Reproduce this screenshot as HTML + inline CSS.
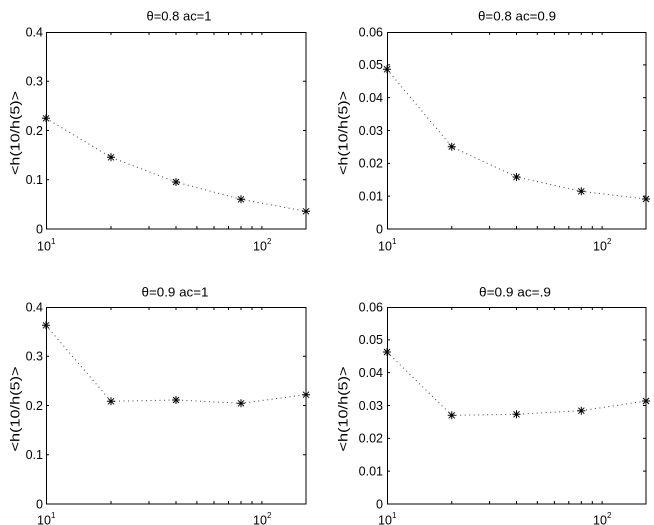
<!DOCTYPE html>
<html><head><meta charset="utf-8"><style>
html,body{margin:0;padding:0;background:#fff;}
svg{display:block;}
text{font-family:"Liberation Sans",Arial,sans-serif;fill:#000;}
</style></head><body>
<svg width="654" height="525" viewBox="0 0 654 525" xmlns="http://www.w3.org/2000/svg">
<defs>
<path id="m" d="M-4,0H4M0,-4V4M-3,-3L3,3M-3,3L3,-3" stroke="#000" stroke-width="1" fill="none"/>
</defs>

<!-- ===== Plot 1 ===== -->
<g>
<rect x="46.5" y="32.5" width="259.5" height="196.5" fill="none" stroke="#000" stroke-width="1"/>
<path stroke="#000" stroke-width="1" fill="none" d="
M111,229V226M149,229V226M176,229V226M196.9,229V226M214,229V226M228.5,229V226M241,229V226M252,229V226M261.9,229V226
M111,32V35M149,32V35M176,32V35M196.9,32V35M214,32V35M228.5,32V35M241,32V35M252,32V35M261.9,32V35
M46,179.75H49M46,130.5H49M46,81.25H49
M306,179.75H303M306,130.5H303M306,81.25H303"/>
<polyline points="46,118.3 111,157.3 176,182 241,199.3 306,211.3" fill="none" stroke="#000" stroke-width="1" stroke-dasharray="1 3.5" opacity="0.75"/>
<use href="#m" x="46" y="118.3"/><use href="#m" x="111" y="157.3"/><use href="#m" x="176" y="182"/><use href="#m" x="241" y="199.3"/><use href="#m" x="306" y="211.3"/>
<g font-size="12.5" text-anchor="end">
<text x="43" y="233.3">0</text>
<text x="43" y="184">0.1</text>
<text x="43" y="134.8">0.2</text>
<text x="43" y="85.5">0.3</text>
<text x="43" y="36.3">0.4</text>
</g>
<text x="37" y="250.5" font-size="12.5">10</text><text x="51" y="244" font-size="8">1</text>
<text x="253" y="250.5" font-size="12.5">10</text><text x="267" y="244" font-size="8">2</text>
<text x="179" y="20.7" font-size="13" text-anchor="middle" textLength="65" lengthAdjust="spacingAndGlyphs">θ=0.8 ac=1</text>
<text transform="translate(19.5,133) rotate(-90)" font-size="13" text-anchor="middle" textLength="84" lengthAdjust="spacingAndGlyphs">&lt;h(10/h(5)&gt;</text>
</g>

<!-- ===== Plot 2 ===== -->
<g>
<rect x="387.5" y="32.5" width="258.5" height="196.5" fill="none" stroke="#000" stroke-width="1"/>
<path stroke="#000" stroke-width="1" fill="none" d="
M451.75,229V226M489.6,229V226M516.5,229V226M537.3,229V226M554.4,229V226M568.8,229V226M581.3,229V226M592.3,229V226M602.1,229V226
M451.75,32V35M489.6,32V35M516.5,32V35M537.3,32V35M554.4,32V35M568.8,32V35M581.3,32V35M592.3,32V35M602.1,32V35
M387,196.17H390M387,163.33H390M387,130.5H390M387,97.67H390M387,64.83H390
M646,196.17H643M646,163.33H643M646,130.5H643M646,97.67H643M646,64.83H643"/>
<polyline points="387,69.3 451.75,146.7 516.5,177 581.3,191.3 646,199" fill="none" stroke="#000" stroke-width="1" stroke-dasharray="1 3.5" opacity="0.75"/>
<use href="#m" x="387" y="69.3"/><use href="#m" x="451.75" y="146.7"/><use href="#m" x="516.5" y="177"/><use href="#m" x="581.3" y="191.3"/><use href="#m" x="646" y="199"/>
<g font-size="12.5" text-anchor="end">
<text x="383" y="233.3">0</text>
<text x="383" y="200.5">0.01</text>
<text x="383" y="167.6">0.02</text>
<text x="383" y="134.8">0.03</text>
<text x="383" y="102">0.04</text>
<text x="383" y="69.1">0.05</text>
<text x="383" y="36.3">0.06</text>
</g>
<text x="378" y="250.5" font-size="12.5">10</text><text x="392" y="244" font-size="8">1</text>
<text x="593" y="250.5" font-size="12.5">10</text><text x="607" y="244" font-size="8">2</text>
<text x="517" y="20.7" font-size="13" text-anchor="middle" textLength="78" lengthAdjust="spacingAndGlyphs">θ=0.8 ac=0.9</text>
<text transform="translate(347.5,133) rotate(-90)" font-size="13" text-anchor="middle" textLength="84" lengthAdjust="spacingAndGlyphs">&lt;h(10/h(5)&gt;</text>
</g>

<!-- ===== Plot 3 ===== -->
<g>
<rect x="46.5" y="307.5" width="259.5" height="196.5" fill="none" stroke="#000" stroke-width="1"/>
<path stroke="#000" stroke-width="1" fill="none" d="
M111,504V501M149,504V501M176,504V501M196.9,504V501M214,504V501M228.5,504V501M241,504V501M252,504V501M261.9,504V501
M111,307V310M149,307V310M176,307V310M196.9,307V310M214,307V310M228.5,307V310M241,307V310M252,307V310M261.9,307V310
M46,454.75H49M46,405.5H49M46,356.25H49
M306,454.75H303M306,405.5H303M306,356.25H303"/>
<polyline points="46,325.3 111,401.3 176,400 241,403.3 306,394.7" fill="none" stroke="#000" stroke-width="1" stroke-dasharray="1 3.5" opacity="0.75"/>
<use href="#m" x="46" y="325.3"/><use href="#m" x="111" y="401.3"/><use href="#m" x="176" y="400"/><use href="#m" x="241" y="403.3"/><use href="#m" x="306" y="394.7"/>
<g font-size="12.5" text-anchor="end">
<text x="43" y="508.3">0</text>
<text x="43" y="459">0.1</text>
<text x="43" y="409.8">0.2</text>
<text x="43" y="360.5">0.3</text>
<text x="43" y="311.3">0.4</text>
</g>
<text x="37" y="524.5" font-size="12.5">10</text><text x="51" y="518" font-size="8">1</text>
<text x="253" y="524.5" font-size="12.5">10</text><text x="267" y="518" font-size="8">2</text>
<text x="175" y="296.5" font-size="13" text-anchor="middle" textLength="67" lengthAdjust="spacingAndGlyphs">θ=0.9 ac=1</text>
<text transform="translate(19.5,409) rotate(-90)" font-size="13" text-anchor="middle" textLength="85" lengthAdjust="spacingAndGlyphs">&lt;h(10/h(5)&gt;</text>
</g>

<!-- ===== Plot 4 ===== -->
<g>
<rect x="387.5" y="307.5" width="258.5" height="196.5" fill="none" stroke="#000" stroke-width="1"/>
<path stroke="#000" stroke-width="1" fill="none" d="
M451.75,504V501M489.6,504V501M516.5,504V501M537.3,504V501M554.4,504V501M568.8,504V501M581.3,504V501M592.3,504V501M602.1,504V501
M451.75,307V310M489.6,307V310M516.5,307V310M537.3,307V310M554.4,307V310M568.8,307V310M581.3,307V310M592.3,307V310M602.1,307V310
M387,471.17H390M387,438.33H390M387,405.5H390M387,372.67H390M387,339.83H390
M646,471.17H643M646,438.33H643M646,405.5H643M646,372.67H643M646,339.83H643"/>
<polyline points="387,352 451.75,415.3 516.5,414.3 581.3,410.7 646,401" fill="none" stroke="#000" stroke-width="1" stroke-dasharray="1 3.5" opacity="0.75"/>
<use href="#m" x="387" y="352"/><use href="#m" x="451.75" y="415.3"/><use href="#m" x="516.5" y="414.3"/><use href="#m" x="581.3" y="410.7"/><use href="#m" x="646" y="401"/>
<g font-size="12.5" text-anchor="end">
<text x="383" y="508.3">0</text>
<text x="383" y="475.5">0.01</text>
<text x="383" y="442.6">0.02</text>
<text x="383" y="409.8">0.03</text>
<text x="383" y="377">0.04</text>
<text x="383" y="344.1">0.05</text>
<text x="383" y="311.3">0.06</text>
</g>
<text x="378" y="524.5" font-size="12.5">10</text><text x="392" y="518" font-size="8">1</text>
<text x="593" y="524.5" font-size="12.5">10</text><text x="607" y="518" font-size="8">2</text>
<text x="515" y="296.5" font-size="13" text-anchor="middle" textLength="72" lengthAdjust="spacingAndGlyphs">θ=0.9 ac=.9</text>
<text transform="translate(347.5,409) rotate(-90)" font-size="13" text-anchor="middle" textLength="85" lengthAdjust="spacingAndGlyphs">&lt;h(10/h(5)&gt;</text>
</g>
</svg>
</body></html>
